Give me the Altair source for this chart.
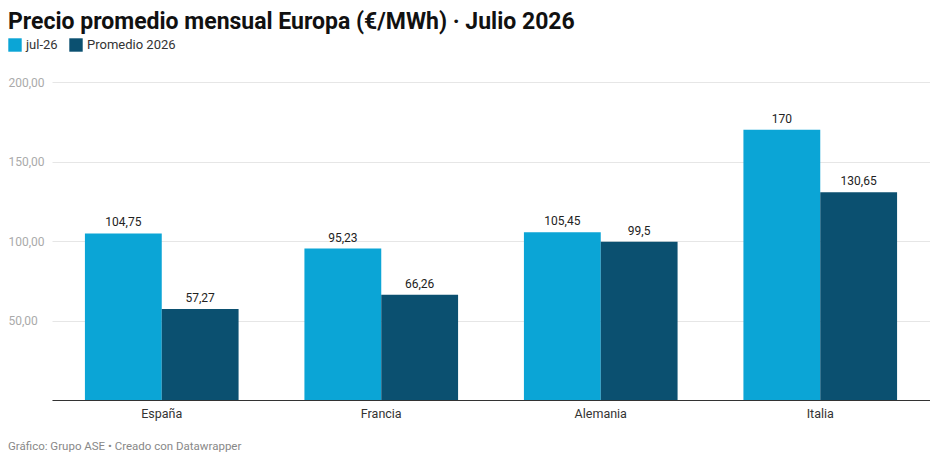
import altair as alt
import pandas as pd

paises = ["España", "Francia", "Alemania", "Italia"]
series = ["jul-26", "Promedio 2026"]
jul26 = [104.75, 95.23, 105.45, 170]
prom2026 = [57.27, 66.26, 99.5, 130.65]
colores = ["#0ba5d6", "#0b5070"]
titulo = "Precio promedio mensual Europa (€/MWh) · Julio 2026"
fuente = "Gráfico: Grupo ASE • Creado con Datawrapper"
y_ticks = [0, 50, 100, 150, 200]

rows = []
for p, a, b in zip(paises, jul26, prom2026):
    rows.append({"pais": p, "serie": series[0], "valor": a})
    rows.append({"pais": p, "serie": series[1], "valor": b})
df = pd.DataFrame(rows)

FONT = "Roboto"
W, H = 878, 318

x = alt.X("pais:N", sort=paises, title=None,
          scale=alt.Scale(paddingInner=0.3, paddingOuter=0.15),
          axis=alt.Axis(labelAngle=0, ticks=False, domain=True, domainColor="#333333",
                        domainWidth=1, labelPadding=7, labelFontSize=12.5,
                        labelColor="#333333", labelFont=FONT, grid=False))
y = alt.Y("valor:Q", title=None,
          scale=alt.Scale(domain=[0, 200], nice=False),
          axis=alt.Axis(values=y_ticks, domain=False, ticks=False, grid=True,
                        gridColor="#e6e6e6", gridWidth=1,
                        labelAlign="left", labelPadding=44, labelBaseline="middle",
                        labelFontSize=12, labelColor="#aaaaaa", labelFont=FONT,
                        labelExpr="datum.value == 0 ? '' : replace(format(datum.value, '.2f'), '.', ',')"))
xo = alt.XOffset("serie:N", sort=series)

bars = alt.Chart(df).mark_bar().encode(
    x=x, xOffset=xo, y=y,
    color=alt.Color("serie:N", sort=series, title=None,
                    scale=alt.Scale(domain=series, range=colores),
                    legend=alt.Legend(orient="none", legendX=-44, legendY=-44,
                                      direction="horizontal", symbolType="square",
                                      symbolSize=180, symbolStrokeWidth=0,
                                      labelFontSize=13, labelFont=FONT,
                                      labelColor="#333333", labelOffset=4,
                                      columnPadding=11, title=None))
)

labels = alt.Chart(df).transform_calculate(
    etiqueta="replace(toString(datum.valor), '.', ',')"
).mark_text(baseline="alphabetic", dy=-7, fontSize=12, font=FONT, color="#222222").encode(
    x=x, xOffset=xo, y=y, text="etiqueta:N",
)

title_df = pd.DataFrame({"t": [titulo]})
title_mark = alt.Chart(title_df).mark_text(
    align="left", baseline="top", fontSize=23, fontWeight="bold", font=FONT, color="#111111"
).encode(x=alt.value(-44), y=alt.value(-71), text="t:N")

foot_df = pd.DataFrame({"t": [fuente]})
foot_mark = alt.Chart(foot_df).mark_text(
    align="left", baseline="middle", fontSize=11.5, font=FONT, color="#888888"
).encode(x=alt.value(-44), y=alt.value(H + 47), text="t:N")

chart = alt.layer(bars, labels, title_mark, foot_mark).properties(
    width=W, height=H, padding={"left": 0, "top": 3, "right": 0, "bottom": 0}
).configure(font=FONT).configure_view(stroke=None).configure_axisY(domain=False)

chart.save("out.html", embed_options={"renderer": "svg", "actions": False})
